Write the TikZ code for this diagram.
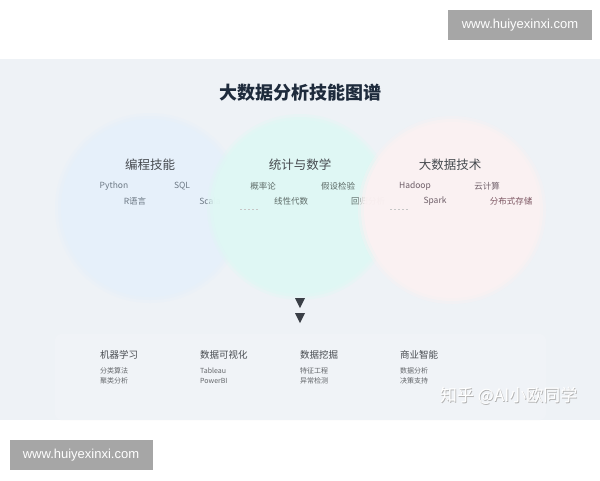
\documentclass[tikz,border=0pt]{standalone}
\usepackage{fontspec}
\setmainfont{Noto Sans CJK SC}
\newfontfamily\urlfont{Liberation Sans}
\definecolor{panelbg}{HTML}{EEF2F6}
\definecolor{innerbg}{HTML}{F0F3F7}
\definecolor{cblue}{HTML}{E6F0FA}
\definecolor{ccyan}{HTML}{DFF8F4}
\definecolor{cpink}{HTML}{FBF1F2}
\definecolor{titlec}{HTML}{1E2B3C}
\definecolor{headc}{HTML}{474B50}
\definecolor{itemb}{HTML}{6C7884}
\definecolor{itemc}{HTML}{5E6C68}
\definecolor{itemp}{HTML}{6E5E68}
\definecolor{itemr}{HTML}{7C5662}
\definecolor{arrowc}{HTML}{3A3F46}
\definecolor{wmgray}{HTML}{A6A6A6}
\tikzset{
  circtitle/.style={font=\fontsize{12.5}{14}\selectfont, text=headc, inner sep=0pt},
  citem/.style={font=\fontsize{8.5}{10}\selectfont, inner sep=0pt},
  cathead/.style={font=\fontsize{9.5}{11}\selectfont, text=headc, anchor=west, inner sep=0pt},
  catitem/.style={font=\fontsize{7}{9}\selectfont, text=headc!85, anchor=west, inner sep=0pt},
  softdash/.style={draw=gray!45, line width=0.6pt, dash pattern=on 2pt off 2pt},
  tri/.style={fill=arrowc, draw=none},
  wmbox/.style={fill=wmgray, draw=none, minimum width=144pt, minimum height=30pt, inner sep=0pt,
    font=\urlfont\fontsize{13}{15}\selectfont, text=white},
}
\begin{document}
\begin{tikzpicture}[x=1pt,y=-1pt]
\useasboundingbox (0,0) rectangle (600,480);
\fill[white] (0,0) rectangle (600,480);
% main panel
\fill[panelbg] (0,59) rectangle (600,420);
\fill[innerbg, rounded corners=6pt] (55,334) rectangle (546,420);

% title
\node[font=\fontsize{18}{20}\selectfont\bfseries, text=titlec, inner sep=0pt] (title) at (300,93) {大数据分析技能图谱};

% left circle
\fill[cblue, opacity=0.35] (150,208) circle (95);
\fill[cblue, opacity=0.6] (150,208) circle (92);
\fill[cblue] (150,208) circle (89);
\node[circtitle] (prog) at (150,165) {编程技能};
\node[citem, text=itemb] (python) at (114,186) {Python};
\node[citem, text=itemb] (sql) at (182,186) {SQL};
\node[citem, text=itemb] (rlang) at (135,201) {R语言};
\node[citem, text=itemb] (scala) at (210,201) {Scala};

% middle circle
\fill[ccyan, opacity=0.35] (300,207) circle (93);
\fill[ccyan, opacity=0.6] (300,207) circle (90);
\fill[ccyan, opacity=0.9] (300,207) circle (87);
\node[circtitle] (stat) at (300,165) {统计与数学};
\node[citem, text=itemc] (prob) at (263,186) {概率论};
\node[citem, text=itemc] (hypo) at (338,186) {假设检验};
\node[citem, text=itemc] (linalg) at (291,201) {线性代数};
\node[citem, text=itemc] (regr) at (368,201) {回归分析};
\coordinate (d1a) at (240,209);
\coordinate (d1b) at (258,209);
\draw[softdash] (d1a) -- (d1b);

% right circle
\fill[cpink, opacity=0.35] (452,210) circle (94);
\fill[cpink, opacity=0.6] (452,210) circle (91);
\fill[cpink, opacity=0.9] (452,210) circle (88);
\node[circtitle] (bigd) at (450,165) {大数据技术};
\node[citem, text=itemp] (hadoop) at (415,186) {Hadoop};
\node[citem, text=itemp] (cloud) at (487,186) {云计算};
\node[citem, text=itemp] (spark) at (435,201) {Spark};
\node[citem, text=itemr] (dist) at (511,201) {分布式存储};
\coordinate (d2a) at (390,209);
\coordinate (d2b) at (408,209);
\draw[softdash] (d2a) -- (d2b);

% arrows
\fill[tri] (295,298) -- (305,298) -- (300,308) -- cycle;
\fill[tri] (295,313) -- (305,313) -- (300,323) -- cycle;

% bottom categories
\node[cathead] (ml) at (100,355) {机器学习};
\node[catitem] (ml1) at (100,371) {分类算法};
\node[catitem] (ml2) at (100,381) {聚类分析};
\node[cathead] (vis) at (200,355) {数据可视化};
\node[catitem] (vis1) at (200,371) {Tableau};
\node[catitem] (vis2) at (200,381) {PowerBI};
\node[cathead] (dm) at (300,355) {数据挖掘};
\node[catitem] (dm1) at (300,371) {特征工程};
\node[catitem] (dm2) at (300,381) {异常检测};
\node[cathead] (bi) at (400,355) {商业智能};
\node[catitem] (bi1) at (400,371) {数据分析};
\node[catitem] (bi2) at (400,381) {决策支持};

% zhihu watermark
\node[font=\fontsize{17}{19}\selectfont, text=gray!60, anchor=west, inner sep=0pt] (zhs) at (440.7,396.7) {知乎\ @AI小欧同学};
\node[font=\fontsize{17}{19}\selectfont, text=white, anchor=west, inner sep=0pt] (zh) at (440,396) {知乎\ @AI小欧同学};

% site watermarks
\node[wmbox] (wm1) at (520,25) {www.huiyexinxi.com};
\node[wmbox, minimum width=143pt] (wm2) at (81,455) {www.huiyexinxi.com};
\end{tikzpicture}
\end{document}
